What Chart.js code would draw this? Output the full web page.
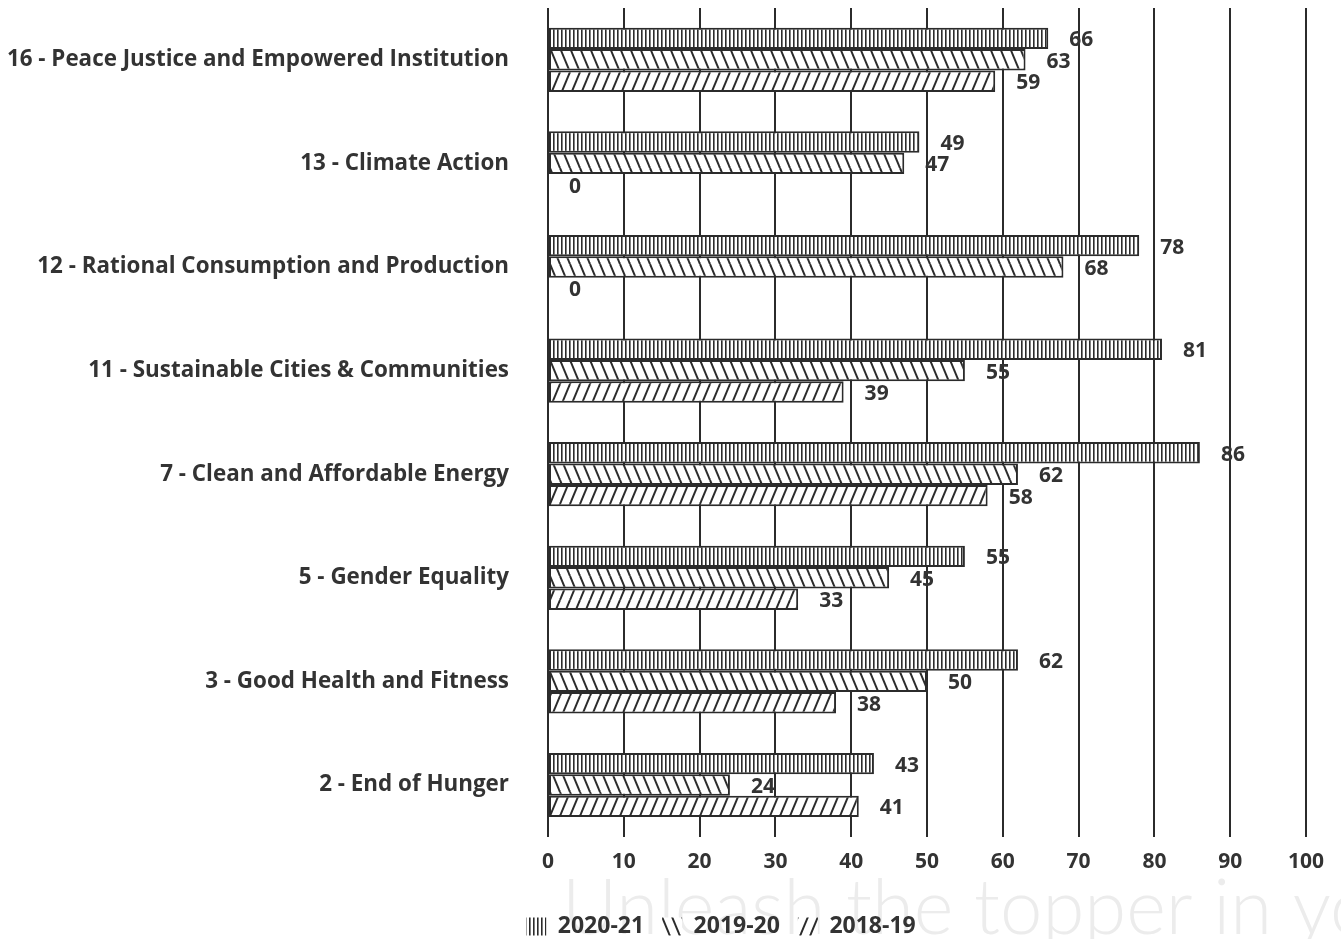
<!DOCTYPE html>
<html>
<head>
<meta charset="utf-8">
<script src="https://cdn.jsdelivr.net/npm/chart.js@4.4.0/dist/chart.umd.min.js"></script>
<style>
  body { margin: 0; background: #fff; }
  #wrap { width: 1341px; height: 939px; position: relative; }
</style>
</head>
<body>
<div id="wrap"><canvas id="sdgChart"></canvas></div>
<script>
var categories = [
  "16 - Peace Justice and Empowered Institution",
  "13 - Climate Action",
  "12 - Rational Consumption and Production",
  "11 - Sustainable Cities & Communities",
  "7 - Clean and Affordable Energy",
  "5 - Gender Equality",
  "3 - Good Health and Fitness",
  "2 - End of Hunger"
];
var values2021 = [66, 49, 78, 81, 86, 55, 62, 43];
var values1920 = [63, 47, 68, 55, 62, 45, 50, 24];
var values1819 = [59, 0, 0, 39, 58, 33, 38, 41];
var xTicks = [0, 10, 20, 30, 40, 50, 60, 70, 80, 90, 100];

var ink = '#2b2b2b';
var txt = '#333333';

// hatch fills
function makePattern(kind) {
  var c = document.createElement('canvas');
  var g = c.getContext('2d');
  if (kind == 'vert') {
    c.width = 4; c.height = 4;
    g.fillStyle = '#fff';
    g.fillRect(0, 0, 4, 4);
    g.fillStyle = ink;
    g.fillRect(1, 0, 1.6, 4);
  } else {
    c.width = 10; c.height = 24;
    g.fillStyle = '#fff';
    g.fillRect(0, 0, 10, 24);
    g.strokeStyle = ink;
    g.lineWidth = 2;
    for (var k = -1; k <= 1; k++) {
      g.beginPath();
      if (kind == 'back') {
        g.moveTo(k * 10, 0); g.lineTo(k * 10 + 10, 24);
      } else {
        g.moveTo(k * 10 + 10, 0); g.lineTo(k * 10, 24);
      }
      g.stroke();
    }
  }
  return g.createPattern(c, 'repeat');
}

var ctx = document.getElementById('sdgChart').getContext('2d');

var valueLabels = {
  id: 'valueLabels',
  afterDatasetsDraw: function(chart) {
    var c = chart.ctx;
    c.save();
    c.font = 'bold 21px "Open Sans"';
    c.fillStyle = txt;
    c.textAlign = 'left';
    c.textBaseline = 'middle';
    chart.data.datasets.forEach(function(ds, i) {
      var meta = chart.getDatasetMeta(i);
      meta.data.forEach(function(bar, j) {
        c.fillText(String(ds.data[j]), bar.x + 21, bar.y + 2);
      });
    });
    c.restore();
  }
};

var watermark = {
  id: 'watermark',
  beforeDraw: function(chart) {
    var c = chart.ctx;
    c.save();
    c.font = '300 76px Lato';
    c.fillStyle = '#ececec';
    c.textBaseline = 'alphabetic';
    c.fillText('Unleash the topper in you', 562, 934);
    c.restore();
  }
};

// nudge the legend to where the original sits
var legendShift = {
  id: 'legendShift',
  afterLayout: function(chart) {
    var lg = chart.legend;
    lg.left += 68; lg.right += 68;
    lg.top += 9; lg.bottom += 9;
  }
};

new Chart(ctx, {
  type: 'bar',
  data: {
    labels: categories,
    datasets: [{
        label: '2020-21',
        data: values2021,
        backgroundColor: makePattern('vert'),
        borderColor: ink,
        borderWidth: 2,
        borderSkipped: false
      }, {
        label: '2019-20',
        data: values1920,
        backgroundColor: makePattern('back'),
        borderColor: ink,
        borderWidth: 2,
        borderSkipped: false
      }, {
        label: '2018-19',
        data: values1819,
        backgroundColor: makePattern('fwd'),
        borderColor: ink,
        borderWidth: 2,
        borderSkipped: false
      }
    ]
  },
  options: {
    indexAxis: 'y',
    responsive: true,
    maintainAspectRatio: false,
    animation: false,
    categoryPercentage: 0.62,
    barPercentage: 1.0,
    layout: { padding: { top: 8, right: 35, left: 0, bottom: 0 } },
    plugins: {
      tooltip: { enabled: false },
      legend: {
        position: 'bottom',
        labels: {
          color: txt,
          boxWidth: 20,
          boxHeight: 18,
          padding: 18,
          font: { size: 23, weight: 'bold', family: 'Open Sans' },
          generateLabels: function(chart) {
            return chart.data.datasets.map(function(ds, i) {
              return {
                text: ds.label,
                fillStyle: ds.backgroundColor,
                strokeStyle: 'rgba(0,0,0,0)',
                lineWidth: 0,
                fontColor: txt,
                datasetIndex: i
              };
            });
          }
        }
      }
    },
    scales: {
      x: {
        min: 0,
        max: 100,
        afterBuildTicks: function(scale) {
          scale.ticks = xTicks.map(function(v) { return { value: v }; });
        },
        grid: { color: ink, lineWidth: 2, drawTicks: false },
        border: { display: false },
        ticks: {
          color: txt,
          padding: 13,
          font: { size: 21, weight: 'bold', family: 'Open Sans' }
        }
      },
      y: {
        grid: { display: false },
        border: { display: false },
        afterFit: function(scale) {
          scale.width = 548;
          scale.paddingTop = 0;
          scale.paddingBottom = 0;
        },
        ticks: {
          color: txt,
          padding: 31,
          font: { size: 22.4, weight: 'bold', family: 'Open Sans' }
        }
      }
    }
  },
  plugins: [watermark, legendShift, valueLabels]
});
</script>
</body>
</html>
